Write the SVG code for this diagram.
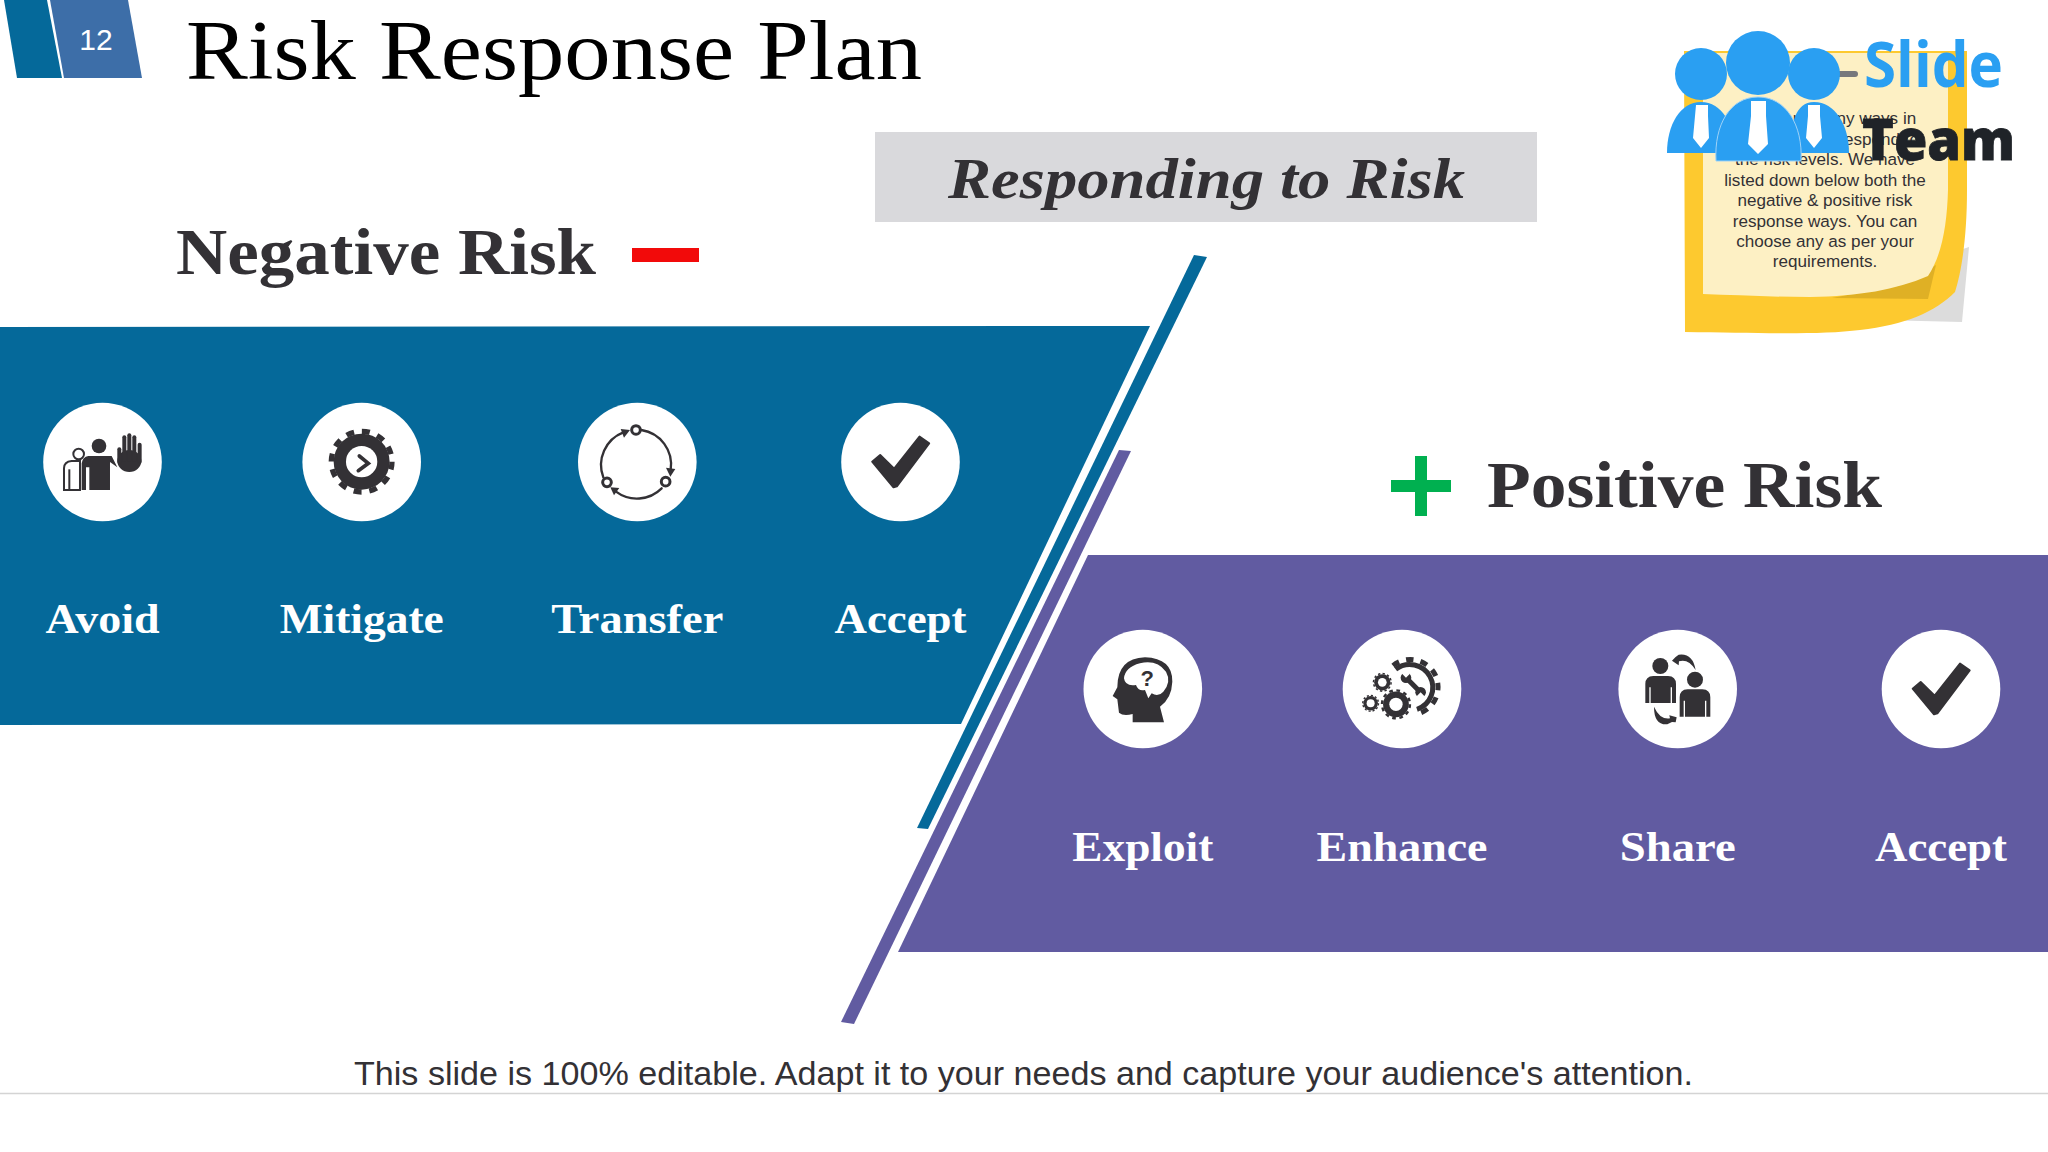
<svg xmlns="http://www.w3.org/2000/svg" width="2048" height="1152" viewBox="0 0 2048 1152">
<style>
.ic{fill:#333135}
.ln{fill:none;stroke:#333135;stroke-linecap:round}
.w{fill:#fff}
.lab{font-family:"Liberation Serif",serif;font-weight:700;font-size:42px;fill:#fff;text-anchor:middle}
.head{font-family:"Liberation Serif",serif;font-weight:700;font-size:66px;fill:#333135}
.note{font-family:"Liberation Sans",Arial,sans-serif;font-size:17.1px;fill:#333135;text-anchor:middle}
</style>
<defs>
<g id="gear"><circle r="84" class="ic"/><circle r="91" fill="none" stroke="#333135" stroke-width="16" stroke-dasharray="24 23.65"/></g>
<g id="check"><polygon class="ic" stroke="#333135" stroke-width="6" stroke-linejoin="round" points="-85,-1 -61,-21 -19,20 57,-76 86,-56 -11,73 -21,76"/></g>
</defs>
<rect width="2048" height="1152" fill="#fff"/>

<g id="page-tab">
<polygon points="4,0 47,0 62,78 17,78" fill="#05699a"/>
<polygon points="50,0 128,0 142,78 64,78" fill="#3d6ea8"/>
<text x="96" y="50" font-family="'Liberation Sans',Arial,sans-serif" font-size="30" fill="#fff" text-anchor="middle">12</text>
</g>
<text id="title" x="186" y="79" font-family="'Liberation Serif',serif" font-size="84" fill="#000" textLength="736" lengthAdjust="spacingAndGlyphs">Risk Response Plan</text>

<g id="banner">
<rect x="875" y="132" width="662" height="90" fill="#d9d9dc"/>
<text x="948" y="198" font-family="'Liberation Serif',serif" font-weight="700" font-style="italic" font-size="58" fill="#333135" textLength="517" lengthAdjust="spacingAndGlyphs">Responding to Risk</text>
</g>

<g id="note">
<path d="M1880 320 L1962 322 L1969 247 L1960 250 Z" fill="#dcdcdc"/>
<path d="M1684 51 H1967 V190 C1967 235 1962 270 1955 292 C1935 312 1905 325 1860 330 C1820 335 1760 333 1685 332 Z" fill="#fdc92f"/>
<path d="M1832 298 L1928 299 L1936 265 L1900 285 Z" fill="#dfb025"/>
<path d="M1703 53 H1948 V190 C1947 225 1942 255 1928 276 C1895 290 1860 296 1810 297 C1770 297 1735 295 1703 294 Z" fill="#fdf0c4"/>
<text class="note" x="1825" y="124">There are many ways in</text>
<text class="note" x="1825" y="145">which we can respond to</text>
<text class="note" x="1825" y="165">the risk levels. We have</text>
<text class="note" x="1825" y="186">listed down below both the</text>
<text class="note" x="1825" y="206">negative &amp; positive risk</text>
<text class="note" x="1825" y="227">response ways. You can</text>
<text class="note" x="1825" y="247">choose any as per your</text>
<text class="note" x="1825" y="267">requirements.</text>
</g>

<g id="logo">
<line x1="1835" y1="74" x2="1855" y2="74" stroke="#77787c" stroke-width="6" stroke-linecap="round"/>
<text x="1864" y="87" font-family="'Open Sans',sans-serif" font-weight="700" font-size="62" fill="#2a9ff2" textLength="139" lengthAdjust="spacingAndGlyphs">Slide</text>
<text x="1862" y="160" font-family="'Open Sans',sans-serif" font-weight="800" font-size="56" fill="#1f2328" stroke="#1f2328" stroke-width=".8" textLength="153" lengthAdjust="spacingAndGlyphs">Team</text>
<g fill="#2a9ff2">
<circle cx="1701" cy="74" r="26"/><circle cx="1814" cy="74" r="26"/>
<path d="M1667 153 C1667 125 1680 102 1701 102 C1722 102 1735 125 1735 153 Z"/>
<path d="M1790 153 C1790 125 1795 102 1814 102 C1835 102 1849 125 1849 153 Z"/>
<circle cx="1758" cy="63" r="32"/>
<path d="M1716 161 C1714 125 1730 97 1758 97 C1786 97 1803 125 1801 161 Z" stroke="#9fd2f7" stroke-width="1"/>
</g>
<g fill="#fff">
<path d="M1696 105 H1708 V116 L1709 138 L1701 148 L1693 138 L1695 116 Z"/>
<path d="M1751 101 H1766 V116 L1768 144 L1758 154 L1748 144 L1751 116 Z"/>
<path d="M1808 105 H1820 V116 L1822 138 L1814 148 L1806 138 L1808 116 Z"/>
</g>
</g>

<g id="negative-heading">
<text class="head" x="176" y="274" textLength="420" lengthAdjust="spacingAndGlyphs">Negative Risk</text>
<rect x="632" y="248" width="67" height="14" fill="#f20a0a"/>
</g>
<g id="positive-heading">
<text class="head" x="1487" y="507" textLength="395" lengthAdjust="spacingAndGlyphs">Positive Risk</text>
<path d="M1415 456 H1427 V480 H1451 V492 H1427 V516 H1415 V492 H1391 V480 H1415 Z" fill="#00b050"/>
</g>

<g id="panels">
<polygon points="0,327 1150,326 961,724 0,725" fill="#05699a"/>
<polygon points="1088,555 2048,555 2048,952 898,952" fill="#615ba1"/>
</g>
<g id="dividers">
<polygon points="1194,255 1207,257 928,829 917,828" fill="#05699a"/>
<polygon points="1119,450 1131,451 854,1024 841,1022" fill="#615ba1"/>
</g>

<g id="node-avoid">
<circle cx="102.5" cy="462" r="59.3" class="w"/>
<g transform="translate(0 380) scale(.3333)">
<path d="M192 330 V265 Q192 245 215 243 H240 V330 Z" fill="#fff" stroke="#333135" stroke-width="6"/>
<line x1="208" y1="268" x2="208" y2="330" stroke="#333135" stroke-width="6"/>
<circle cx="236" cy="222" r="16" fill="#fff" stroke="#333135" stroke-width="6"/>
<circle cx="297" cy="198" r="22" class="ic"/>
<path d="M245 330 V250 Q248 230 265 228 H335 L352 262 L330 246 V330 H268 V262 H258 V330 Z" class="ic"/>
<ellipse cx="388" cy="243" rx="36" ry="33" class="ic"/>
<g class="ln" stroke-width="12">
<line x1="358" y1="208" x2="358" y2="245"/><line x1="373" y1="172" x2="373" y2="240"/><line x1="388" y1="166" x2="388" y2="240"/><line x1="403" y1="172" x2="403" y2="240"/><line x1="419" y1="194" x2="419" y2="245"/>
</g>
</g>
<text class="lab" x="102.5" y="633" textLength="114" lengthAdjust="spacingAndGlyphs">Avoid</text>
</g>

<g id="node-mitigate">
<circle cx="361.7" cy="462" r="59.3" class="w"/>
<g transform="translate(0 380) scale(.3333)">
<use href="#gear" transform="translate(1085 245)"/>
<circle cx="1085" cy="245" r="47" class="w"/>
<path d="M1078 228 L1105 250 L1075 272" class="ln" stroke-width="11"/>
</g>
<text class="lab" x="361.7" y="633" textLength="164" lengthAdjust="spacingAndGlyphs">Mitigate</text>
</g>

<g id="node-transfer">
<circle cx="637.3" cy="462" r="59.3" class="w"/>
<g transform="translate(540 380) scale(.3333)">
<g class="ln" stroke-width="7">
<path d="M304 150 A105 105 0 0 1 392 270"/>
<path d="M365 325 A105 105 0 0 1 228 335"/>
<path d="M190 292 A105 105 0 0 1 250 157"/>
</g>
<g class="ic">
<polygon points="378,263 406,267 391,290"/><polygon points="211,322 238,324 222,346"/><polygon points="270,150 242,147 252,173"/>
</g>
<g fill="#fff" stroke="#333135" stroke-width="9"><circle cx="288" cy="150" r="13"/><circle cx="201" cy="307" r="13"/><circle cx="377" cy="305" r="13"/></g>
</g>
<text class="lab" x="637.3" y="633" textLength="172" lengthAdjust="spacingAndGlyphs">Transfer</text>
</g>

<g id="node-accept-neg">
<circle cx="900.5" cy="462" r="59.3" class="w"/>
<use href="#check" transform="translate(900.5 462) scale(.3333)"/>
<text class="lab" x="900.5" y="633" textLength="132" lengthAdjust="spacingAndGlyphs">Accept</text>
</g>

<g id="node-exploit">
<circle cx="1142.8" cy="689" r="59.3" class="w"/>
<g transform="translate(1060 610) scale(.3333)">
<path d="M218 337 V312 Q190 320 177 308 L172 268 L158 258 L172 232 Q172 145 255 142 Q338 145 337 215 Q335 265 300 290 L312 337 Z" class="ic"/>
<path d="M192 205 Q195 172 240 160 Q290 148 318 185 Q335 215 310 245 Q295 262 275 250 L265 265 L255 240 Q235 245 228 225 Q195 230 192 205 Z" class="w"/>
<text x="262" y="228" font-family="'Liberation Sans',sans-serif" font-weight="700" font-size="66" fill="#333135" text-anchor="middle">?</text>
</g>
<text class="lab" x="1142.8" y="861" textLength="141" lengthAdjust="spacingAndGlyphs">Exploit</text>
</g>

<g id="node-enhance">
<circle cx="1402" cy="689" r="59.3" class="w"/>
<g transform="translate(1060 610) scale(.3333)">
<path d="M1007 178 A69 69 0 1 1 1071 298" fill="none" stroke="#333135" stroke-width="15"/>
<path d="M999 167 A83 83 0 1 1 1075 311" fill="none" stroke="#333135" stroke-width="15" stroke-dasharray="22 21.5"/>
<use href="#gear" transform="translate(1008 283) scale(.46)"/><circle cx="1008" cy="283" r="20" class="w"/>
<use href="#gear" transform="translate(967 217) scale(.29)"/><circle cx="967" cy="217" r="13" class="w"/>
<use href="#gear" transform="translate(932 280) scale(.26)"/><circle cx="932" cy="280" r="12" class="w"/>
<path d="M1040 205 L1080 245" class="ln" stroke-width="15"/>
<circle cx="1038" cy="203" r="16" class="ic"/><circle cx="1082" cy="247" r="16" class="ic"/>
<path d="M1022 187 L1038 203 L1050 191 L1034 175 Z M1098 263 L1082 247 L1070 259 L1086 275 Z" class="w"/>
</g>
<text class="lab" x="1402" y="861" textLength="171" lengthAdjust="spacingAndGlyphs">Enhance</text>
</g>

<g id="node-share">
<circle cx="1677.7" cy="689" r="59.3" class="w"/>
<g transform="translate(1580 610) scale(.3333)">
<circle cx="241" cy="168" r="24" class="ic"/>
<path d="M196 279 V222 Q196 199 220 198 H264 Q288 199 288 222 V279 H276 V232 H272 V279 H212 V232 H208 V279 Z" class="ic"/>
<circle cx="345" cy="209" r="24" class="ic"/>
<path d="M299 320 V262 Q299 239 323 238 H367 Q391 239 391 262 V320 H379 V272 H375 V320 H315 V272 H311 V320 Z" class="ic"/>
<path d="M347 180 Q338 128 296 134 L286 142 L276 152 L296 166 L297 154 Q325 145 347 180 Z" class="ic"/>
<path d="M222 290 Q222 346 262 343 L276 336 L287 337 L290 322 L268 316 L270 325 Q240 330 222 290 Z" class="ic"/>
</g>
<text class="lab" x="1677.7" y="861" textLength="116" lengthAdjust="spacingAndGlyphs">Share</text>
</g>

<g id="node-accept-pos">
<circle cx="1941" cy="689" r="59.3" class="w"/>
<use href="#check" transform="translate(1941 689) scale(.3333)"/>
<text class="lab" x="1941" y="861" textLength="132" lengthAdjust="spacingAndGlyphs">Accept</text>
</g>

<g id="footer">
<text x="354" y="1085" font-family="'Liberation Sans',Arial,sans-serif" font-size="34" fill="#333135" textLength="1339" lengthAdjust="spacingAndGlyphs">This slide is 100% editable. Adapt it to your needs and capture your audience's attention.</text>
<line x1="0" y1="1093.5" x2="2048" y2="1093.5" stroke="#d4d4d4" stroke-width="1.5"/>
</g>
</svg>
